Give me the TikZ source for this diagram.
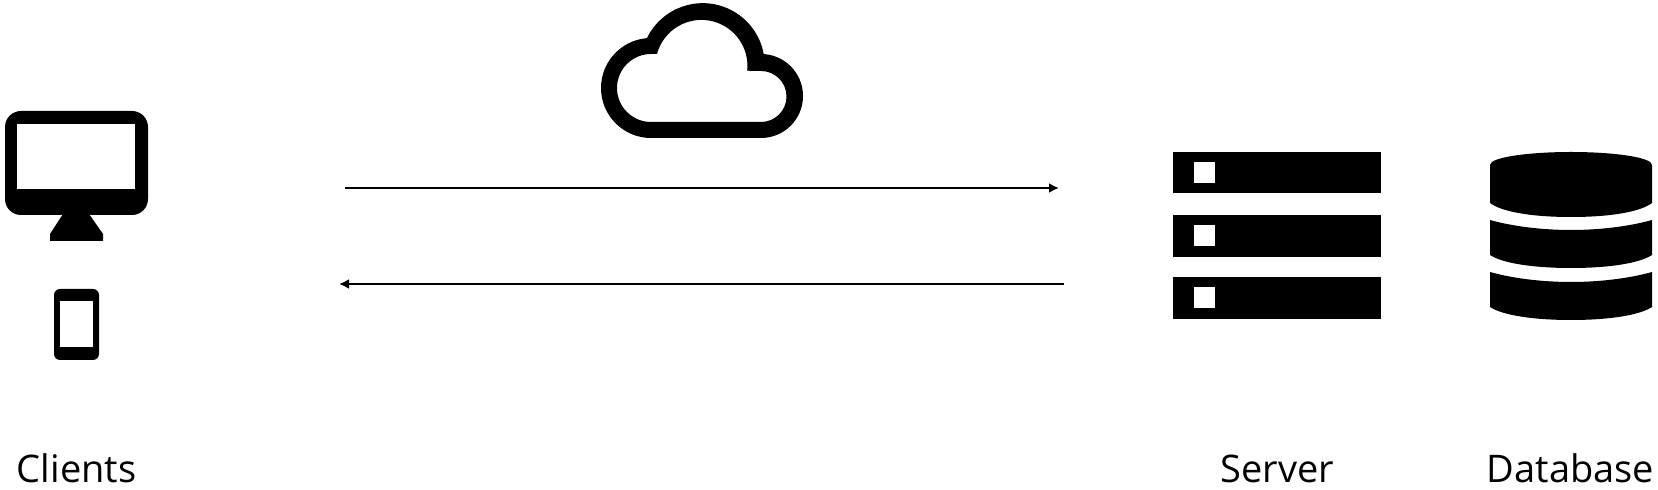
\documentclass[tikz,border=0pt]{standalone}
\usepackage{fontspec}
\setmainfont{Open Sans}
\usepackage{tikz}
\usetikzlibrary{arrows.meta}

\begin{document}
\begin{tikzpicture}[x=0.5pt,y=-0.5pt,>={Latex[length=5pt,width=5pt]},
    iconFill/.style={fill=black,even odd rule},
    iconLabel/.style={anchor=base,font=\fontsize{19}{23}\selectfont},
    flowLine/.style={->,line width=1pt}]
    \useasboundingbox (0,0) rectangle (1658,490);
    % monitor
    \fill[iconFill] [rounded corners=8pt] (5,111) rectangle (148,215);
    \fill[white] (17,124) rectangle (135,189);
    \fill (63,214) -- (89,214) -- (103,234) -- (103,241) -- (50,241) -- (50,234) -- cycle;
    % phone
    \fill[rounded corners=3pt] (54,289) rectangle (99,360);
    \fill[white] (60,301) rectangle (93,347);
    % cloud
    \fill[iconFill]
      (651,138) arc (90:270:50) -- (647,38) arc (206:350:62) -- (761,54)
        arc (270:450:42) -- cycle
      (651,122) arc (90:270:34) -- (657,54) arc (195:366:46) -- (761,71)
        arc (270:450:25.5) -- cycle;
    % server
    \foreach \y/\h in {152/41,215/42,277/42} {
      \fill (1172.5,\y) rectangle (1381,\y+\h);
      \fill[white] (1193.5,\y+10) rectangle (1214.5,\y+31);
    }
    % database
    \fill (1490,165) .. controls (1490,157) and (1530,152) .. (1571,152)
      .. controls (1612,152) and (1652,157) .. (1652,165) -- (1652,203)
      .. controls (1640,212) and (1610,217) .. (1571,217)
      .. controls (1532,217) and (1502,212) .. (1490,203) -- cycle;
    \foreach \y in {220,272} {
      \fill (1490,\y) .. controls (1515,\y+7) and (1545,\y+10) .. (1571,\y+10)
        .. controls (1597,\y+10) and (1627,\y+7) .. (1652,\y) -- (1652,\y+35)
        .. controls (1640,\y+43) and (1610,\y+48) .. (1571,\y+48)
        .. controls (1532,\y+48) and (1502,\y+43) .. (1490,\y+35) -- cycle;
    }
    \coordinate (clientOut) at (345,188);
    \coordinate (serverIn) at (1059,188);
    \coordinate (serverOut) at (1064,284);
    \coordinate (clientIn) at (339,284);
    \draw[flowLine] (clientOut) -- (serverIn);
    \draw[flowLine] (serverOut) -- (clientIn);
    \node[iconLabel] (clients) at (76.5,483) {Clients};
    \node[iconLabel] (server) at (1277.5,483) {Server};
    \node[iconLabel] (database) at (1570.5,483) {Database};
  \end{tikzpicture}
\end{document}
